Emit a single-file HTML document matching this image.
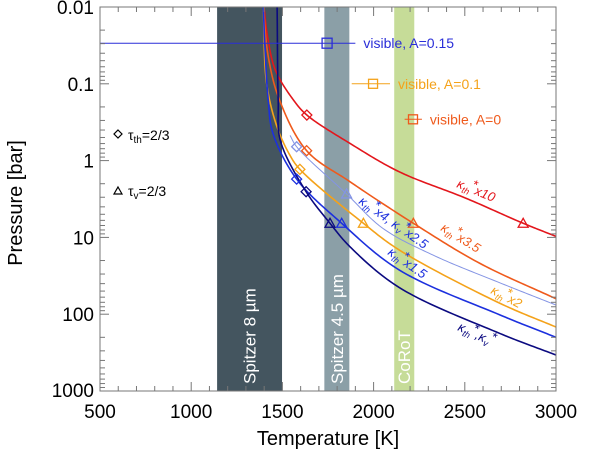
<!DOCTYPE html>
<html><head><meta charset="utf-8"><style>
body{margin:0;background:#fff;}
svg{display:block;font-family:"Liberation Sans",Arial,sans-serif;}
</style></head><body>
<svg id="c" width="600" height="454" viewBox="0 0 600 454"></svg>
<script>
const xTicks=[500,1000,1500,2000,2500,3000];
const yTicks=[0.01,0.1,1,10,100,1000];
const yTickLabels=["0.01","0.1","1","10","100","1000"];
const bandNames=["Spitzer 8 µm","Spitzer 4.5 µm","CoRoT"];
const bandStart=[1142,1730,2113];
const bandEnd=[1498,1867,2223];
const redT=[1399,1417,1461,1561,1634,1870,2141,2506,2820,3000];
const redP=[0.01,0.023,0.066,0.163,0.255,0.596,1.40,3.09,6.55,9.7];
const orangeT=[1395,1423,1483,1633,1870,2218,2583,3000];
const orangeP=[0.01,0.045,0.16,0.743,1.88,6.55,21.8,63];
const yellowT=[1395,1414,1470,1541,1596,1944,2141,2692,3000];
const yellowP=[0.01,0.1,0.36,0.85,1.3,6.55,14.6,72,147];
const lblueT=[1542,1578,1852,2050,2326,2692,3000];
const lblueP=[0.47,0.66,2.72,7.6,17,39,76];
const blueT=[1395,1405,1422,1448,1578,1825,2141,2692,3000];
const blueP=[0.01,0.036,0.16,0.44,1.74,6.55,26.6,102,200];
const navyT=[1471,1477,1488,1630,1761,1870,2141,2692,3000];
const navyP=[0.01,0.163,0.54,2.54,6.55,13.2,45,178,340];
const diamondT=[1634,1633,1596,1578,1578,1630];
const diamondP=[0.255,0.743,1.3,0.66,1.74,2.54];
const triT=[2820,2218,1944,1852,1825,1761];
const triP=[6.55,6.55,6.55,2.72,6.55,6.55];
const visT=[1745,1997,2216];
const visP=[0.0296,0.1,0.29];
const visLo=[500,1880,2170];
const visHi=[1900,2090,2265];
const visLabels=["visible, A=0.15","visible, A=0.1","visible, A=0"];

const L=100,R=556,T=7,B=391;
const xS=v=>L+(v-500)/2500*(R-L);
const yS=p=>T+(Math.log10(p)+2)/5*(B-T);
const NS="http://www.w3.org/2000/svg";
const svg=document.getElementById('c');
function mk(tag,attrs,parent){const e=document.createElementNS(NS,tag);for(const k in attrs)e.setAttribute(k,attrs[k]);(parent||svg).appendChild(e);return e;}
const bandFill=["#44555f","#8b9fa7","#c6dc98"];
bandNames.forEach((n,i)=>{
 const r=mk('rect',{x:xS(bandStart[i]),y:T,width:xS(bandEnd[i])-xS(bandStart[i]),height:B-T,fill:bandFill[i]});
 
 
 const cx=(xS(bandStart[i])+xS(bandEnd[i]))/2+6;
 const t=mk('text',{x:cx,y:384,transform:`rotate(-90 ${cx} 384)`,fill:'#fff','font-size':17});
 t.textContent=n;
 
 
});
function path(Ts,Ps){
 const P=Ts.map((t,i)=>[xS(t),yS(Ps[i])]);const n=P.length;
 const ext=[[2*P[0][0]-P[1][0],2*P[0][1]-P[1][1]],...P,[2*P[n-1][0]-P[n-2][0],2*P[n-1][1]-P[n-2][1]]];
 let d='M'+P[0][0].toFixed(2)+','+P[0][1].toFixed(2);
 const dist=(a,b)=>Math.pow(Math.hypot(b[0]-a[0],b[1]-a[1])||1e-6,0.5);
 for(let i=1;i<ext.length-2;i++){
  const p0=ext[i-1],p1=ext[i],p2=ext[i+1],p3=ext[i+2];
  const t0=0,t1=t0+dist(p0,p1),t2=t1+dist(p1,p2),t3=t2+dist(p2,p3);
  for(let k=1;k<=24;k++){const t=t1+(t2-t1)*k/24;const pt=[0,1].map(j=>{
   const A1=(t1-t)/(t1-t0)*p0[j]+(t-t0)/(t1-t0)*p1[j];
   const A2=(t2-t)/(t2-t1)*p1[j]+(t-t1)/(t2-t1)*p2[j];
   const A3=(t3-t)/(t3-t2)*p2[j]+(t-t2)/(t3-t2)*p3[j];
   const B1=(t2-t)/(t2-t0)*A1+(t-t0)/(t2-t0)*A2;
   const B2=(t3-t)/(t3-t1)*A2+(t-t1)/(t3-t1)*A3;
   return (t2-t)/(t2-t1)*B1+(t-t1)/(t2-t1)*B2;});
   d+=' L'+pt[0].toFixed(2)+','+pt[1].toFixed(2);}
 }
 return d;
}
const series=[[redT,redP,"#e3161c",1.6,"curve-x10"],[orangeT,orangeP,"#ef5a1c",1.6,"curve-x3.5"],[yellowT,yellowP,"#f4a21a",1.6,"curve-x2"],[lblueT,lblueP,"#8494e4",1,"curve-x4"],[blueT,blueP,"#1c30de",1.6,"curve-x1.5"],[navyT,navyP,"#0b0a80",1.6,"curve-baseline"]];
const cp=mk('clipPath',{id:'clp'});mk('rect',{x:L,y:T,width:R-L,height:B-T},cp);
const cs=mk('g',{'clip-path':'url(#clp)'});
series.forEach(s=>{const p=mk('path',{d:path(s[0],s[1]),fill:'none',stroke:s[2],'stroke-width':s[3],'stroke-linejoin':'round'},cs);
 
 });
const mcol=["#e3161c","#ef5a1c","#f4a21a","#8494e4","#1c30de","#0b0a80"];
diamondT.forEach((t,i)=>{const x=xS(t),y=yS(diamondP[i]);
 const m=mk('polygon',{points:`${x},${y-5} ${x+5},${y} ${x},${y+5} ${x-5},${y}`,fill:'none',stroke:mcol[i],'stroke-width':1.3});
 
 });
triT.forEach((t,i)=>{const x=xS(t),y=yS(triP[i]);
 const m=mk('polygon',{points:`${x},${y-5} ${x+5},${y+4} ${x-5},${y+4}`,fill:'none',stroke:mcol[i],'stroke-width':1.3});
 
 });
const vcol=["#2a2ed8","#f4a21a","#ef5a1c"];
visT.forEach((t,i)=>{const x=xS(t),y=yS(visP[i]);
 mk('line',{x1:xS(visLo[i]),x2:xS(visHi[i]),y1:y,y2:y,stroke:vcol[i],'stroke-width':1});
 const s=[10,9,9][i];
 const m=mk('rect',{x:x-s/2,y:y-s/2,width:s,height:s,fill:'none',stroke:vcol[i],'stroke-width':1.3});
 
 
 const tx=mk('text',{x:xS(visHi[i])+8,y:y+5,fill:vcol[i],'font-size':14});tx.textContent=visLabels[i];
 
 });
function clab(x,y,ang,col,html,name){const t=mk('text',{x:x,y:y,fill:col,'font-size':13,'font-style':'italic',transform:`rotate(${ang} ${x} ${y})`});t.innerHTML=html;
 }
clab(456,187,22,"#e3161c",'κ<tspan font-size="9" dy="3">th</tspan><tspan dy="-8">*</tspan><tspan dy="5">x10</tspan>','label-x10');
clab(440,230,32,"#ef5a1c",'κ<tspan font-size="9" dy="3">th</tspan><tspan dy="-8">*</tspan><tspan dy="5">x3.5</tspan>','label-x3.5');
clab(358,203,35,"#1c30de",'κ<tspan font-size="9" dy="3">th</tspan><tspan dy="-8">*</tspan><tspan dy="5">x4, κ</tspan><tspan font-size="9" dy="3">v</tspan><tspan dy="-8">*</tspan><tspan dy="5">x2.5</tspan>','label-x4');
clab(387,254,35,"#1c30de",'κ<tspan font-size="9" dy="3">th</tspan><tspan dy="-8">*</tspan><tspan dy="5">x1.5</tspan>','label-x1.5');
clab(490,293,28,"#f4a21a",'κ<tspan font-size="9" dy="3">th</tspan><tspan dy="-8">*</tspan><tspan dy="5">x2</tspan>','label-x2');
clab(457,330,25,"#0b0a80",'κ<tspan font-size="9" dy="3">th</tspan><tspan dy="-8">*</tspan><tspan dy="5">,κ</tspan><tspan font-size="9" dy="3">v</tspan><tspan dy="-8">*</tspan>','label-baseline');
mk('polygon',{points:"118,130 122,134 118,138 114,134",fill:'none',stroke:'#000','stroke-width':1.2});
let lg=mk('text',{x:128,y:140,'font-size':14});lg.innerHTML='τ<tspan font-size="10" dy="3">th</tspan><tspan dy="-3">=2/3</tspan>';

mk('polygon',{points:"118,187 122,194 114,194",fill:'none',stroke:'#000','stroke-width':1.2});
lg=mk('text',{x:128,y:196,'font-size':14});lg.innerHTML='τ<tspan font-size="10" dy="3">v</tspan><tspan dy="-3">=2/3</tspan>';

const ax=mk('rect',{x:L,y:T,width:R-L,height:B-T,fill:'none',stroke:'#777','stroke-width':1});

for(let v=500;v<=3000;v+=100){const x=xS(v),len=v%500==0?9:5;
 mk('line',{x1:x,x2:x,y1:B,y2:B-len,stroke:'#777'});mk('line',{x1:x,x2:x,y1:T,y2:T+len,stroke:'#777'});}
xTicks.forEach(v=>{const t=mk('text',{x:xS(v),y:418,'text-anchor':'middle','font-size':19});t.textContent=v;
 });
for(let d=-2;d<3;d++)for(let k=1;k<10;k++){const y=yS(k*Math.pow(10,d)),len=k==1?9:5;
 mk('line',{x1:L,x2:L+len,y1:y,y2:y,stroke:'#777'});mk('line',{x1:R,x2:R-len,y1:y,y2:y,stroke:'#777'});}
mk('line',{x1:L,x2:L+9,y1:B,y2:B,stroke:'#777'});
yTicks.forEach((v,i)=>{const t=mk('text',{x:94,y:Math.min(yS(v)+7,397),'text-anchor':'end','font-size':19});t.textContent=yTickLabels[i];
 });
let t=mk('text',{x:328,y:445,'text-anchor':'middle','font-size':20});t.textContent='Temperature [K]';

t=mk('text',{x:22,y:203,'text-anchor':'middle','font-size':20,transform:'rotate(-90 22 203)'});t.textContent='Pressure [bar]';

</script>
</body></html>
